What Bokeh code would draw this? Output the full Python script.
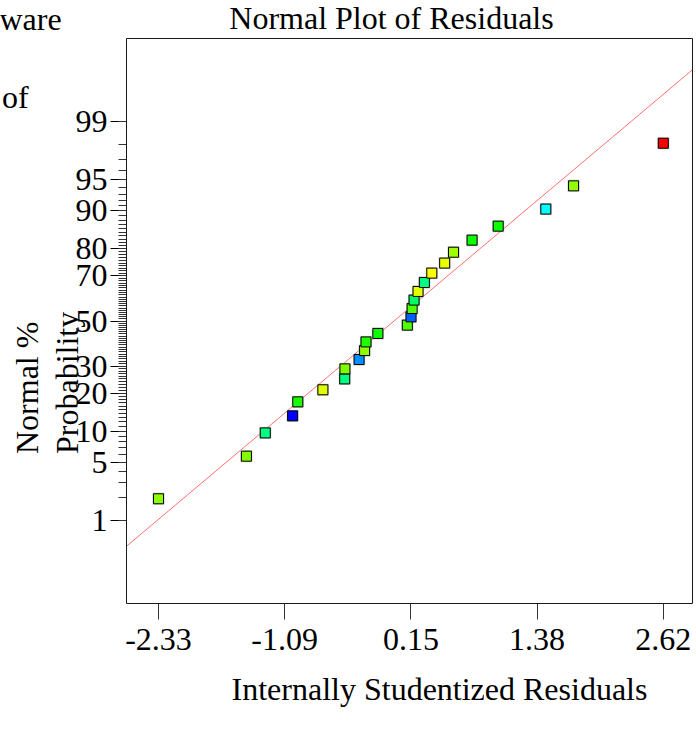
from statistics import NormalDist
from bokeh.plotting import figure
from bokeh.models import FixedTicker, Label, Range1d, ColumnDataSource, BoxAnnotation
from bokeh.embed import file_html
from bokeh.resources import INLINE

# ---------------- data ----------------
residuals = [-2.33, -1.468, -1.283, -1.015, -0.964, -0.718, -0.504, -0.502,
             -0.363, -0.309, -0.295, -0.179, 0.110, 0.146, 0.157, 0.176,
             0.215, 0.277, 0.350, 0.476, 0.563, 0.745, 1.001, 1.468, 1.740, 2.62]
normal_pct = [1.92, 5.77, 9.62, 13.46, 17.31, 21.15, 25.00, 28.85, 32.69,
              36.54, 40.38, 44.23, 48.08, 51.92, 55.77, 59.62, 63.46, 67.31,
              71.15, 75.00, 78.85, 82.69, 86.54, 90.38, 94.23, 98.08]
point_colors = ["#8cff00", "#80ff00", "#00ff80", "#0000ff", "#1aff00", "#ddff00",
                "#00ff80", "#80ff00", "#0090ff", "#90ff00", "#20ff00", "#10ff00",
                "#50ff00", "#0060ff", "#50ff00", "#00ff60", "#e0ff00", "#00ff80",
                "#ffff00", "#e8ff00", "#a0ff00", "#10ff00", "#10ff00", "#00ffff",
                "#90ff00", "#ff0000"]

x_tick_vals = [-2.33, -1.0925, 0.145, 1.3825, 2.62]
x_tick_labels = ["-2.33", "-1.09", "0.15", "1.38", "2.62"]
y_major_pct = [1, 5, 10, 20, 30, 50, 70, 80, 90, 95, 99]
y_minor_pct = list(range(1, 100))
y_limit_pct = 99.95
x_limits = [-2.6438, 2.9063]

line_slope = 1.0
line_intercept = 0.02

# ---------------- scales ----------------
nd = NormalDist()
def z(pct):
    return nd.inv_cdf(pct / 100.0)

W, H = 696, 735
X0, X1 = x_limits
ZT = z(y_limit_pct)

# plot box position on the canvas (pixels)
FL, FR, FT, FB = 126, 692, 38, 603
u = (X1 - X0) / (FR - FL)
v = (2 * ZT) / (FB - FT)
XS, XE = X0 - FL * u, X1 + (W - FR) * u
YE, YS = ZT + FT * v, -ZT - (H - FB) * v

def dx(px):
    return XS + px * u
def dy(py):
    return YE - py * v

src = ColumnDataSource(dict(x=residuals, y=[z(t) for t in normal_pct], c=point_colors))

p = figure(width=W, height=H, x_range=Range1d(XS, XE), y_range=Range1d(YS, YE),
           output_backend="svg", toolbar_location=None, title=None,
           min_border=0, min_border_left=0, min_border_right=0,
           min_border_top=0, min_border_bottom=0)
p.background_fill_color = "white"
p.border_fill_color = "white"
p.outline_line_color = None
p.grid.visible = False

FONT = "Liberation Serif"
FS = "32px"

# plot box
p.add_layout(BoxAnnotation(left=X0, right=X1, bottom=-ZT, top=ZT,
                           fill_color=None, line_color="#1a1a1a",
                           line_alpha=1.0, line_width=1))

# x axis (drawn at the bottom edge of the box)
p.xaxis.fixed_location = -ZT
p.xaxis.ticker = FixedTicker(ticks=x_tick_vals, minor_ticks=[])
p.xaxis.major_label_overrides = {t: s for t, s in zip(x_tick_vals, x_tick_labels)}
p.xaxis.major_tick_out = 16
p.xaxis.major_tick_in = 0
p.xaxis.minor_tick_out = 0
p.xaxis.major_tick_line_color = "#333333"
p.xaxis.axis_line_color = None
p.xaxis.major_label_text_font = FONT
p.xaxis.major_label_text_font_size = FS
p.xaxis.major_label_text_color = "black"
p.xaxis.major_label_standoff = 9

# y axis (drawn at the left edge of the box)
y_major_z = [z(t) for t in y_major_pct]
p.yaxis.fixed_location = X0
p.yaxis.ticker = FixedTicker(ticks=y_major_z, minor_ticks=[z(t) for t in y_minor_pct])
p.yaxis.major_label_overrides = {t: str(s) for t, s in zip(y_major_z, y_major_pct)}
p.yaxis.major_tick_out = 16
p.yaxis.major_tick_in = 0
p.yaxis.minor_tick_out = 8
p.yaxis.minor_tick_in = 0
p.yaxis.major_tick_line_color = "black"
p.yaxis.minor_tick_line_color = "#333333"
p.yaxis.axis_line_color = None
p.yaxis.major_label_text_font = FONT
p.yaxis.major_label_text_font_size = FS
p.yaxis.major_label_text_color = "black"
p.yaxis.major_label_standoff = 3

# reference line across the box
p.segment(x0=[X0], y0=[line_slope * X0 + line_intercept],
          x1=[X1], y1=[line_slope * X1 + line_intercept],
          line_color="#ff7070", line_width=1)

# points
p.scatter("x", "y", source=src, marker="square", size=12,
          fill_color="#9a9a9a", fill_alpha=0.55, line_color=None)
p.scatter("x", "y", source=src, marker="square", size=10,
          fill_color="c", line_color="black", line_width=1)

def lab(text, px, py, align="left", angle=0.0):
    p.add_layout(Label(x=dx(px), y=dy(py), text=text, text_font=FONT,
                       text_font_size=FS, text_color="black",
                       text_align=align, text_baseline="alphabetic", angle=angle))

lab("Normal Plot of Residuals", 391, 17.5, "center")
lab("ware", -1, 18.5)
lab("of", 1.5, 96.5)
lab("Normal %", 26, 453.5, "left", 1.5707963)
lab("Probability", 66, 453.5, "left", 1.5707963)
lab("Internally Studentized Residuals", 439, 688, "center")

open("out.html", "w").write(file_html(p, INLINE))
